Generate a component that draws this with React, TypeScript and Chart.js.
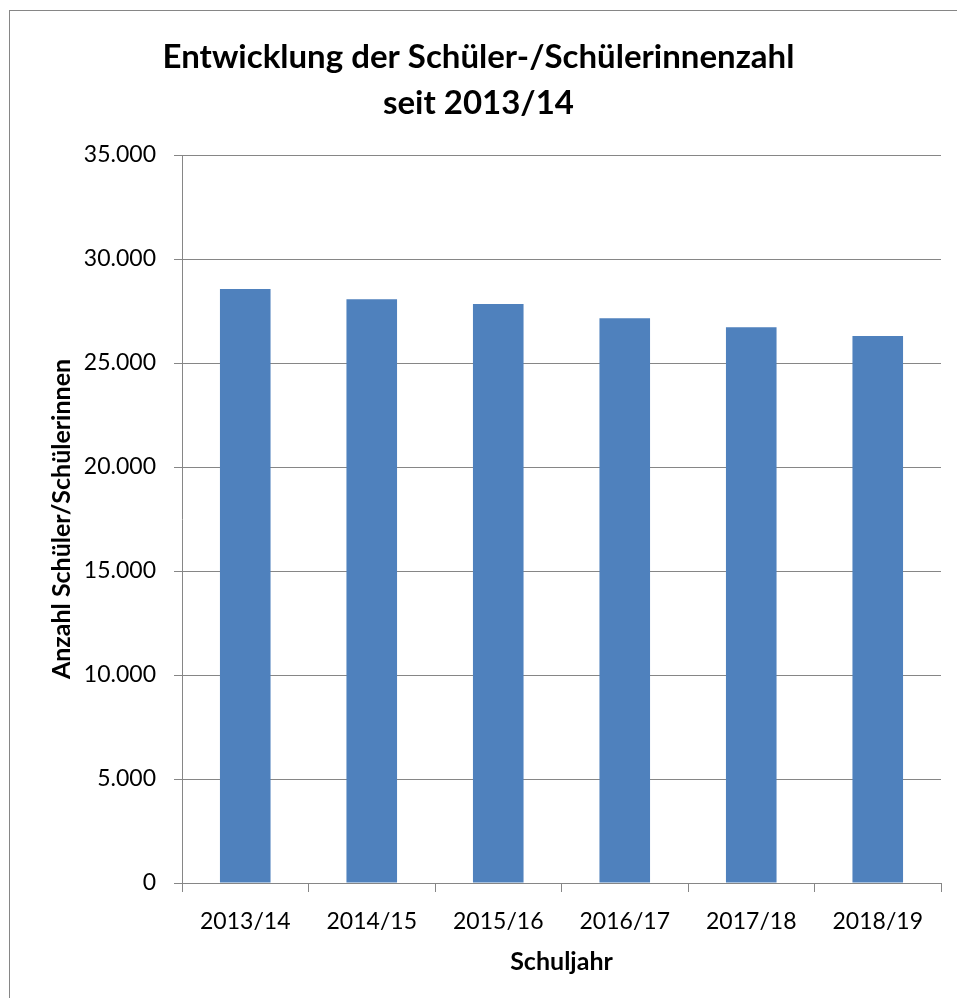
import React, { useEffect, useRef } from "react";
import { Chart, registerables } from "chart.js";

Chart.register(...registerables);

const categories: string[] = ["2013/14", "2014/15", "2015/16", "2016/17", "2017/18", "2018/19"];
const studentCounts: number[] = [28560, 28070, 27840, 27150, 26720, 26300];
const titleLines: string[] = ["Entwicklung der Schüler-/Schülerinnenzahl", "seit 2013/14"];
const yAxisTitle = "Anzahl Schüler/Schülerinnen";
const xAxisTitle = "Schuljahr";
const yMin = 0;
const yMax = 35000;
const yStep = 5000;

const FONT = "Lato, 'Open Sans', sans-serif";
const GRID = "#868686";

const frame = {
  id: "frame",
  beforeDraw(chart: any) {
    const { ctx, width, height } = chart;
    ctx.save();
    ctx.fillStyle = "#ffffff";
    ctx.fillRect(0, 0, width, height);
    ctx.strokeStyle = GRID;
    ctx.lineWidth = 1;
    ctx.strokeRect(9.5, 10.5, width + 20, height + 20);
    ctx.restore();
  },
};

export default function App() {
  const ref = useRef<HTMLCanvasElement | null>(null);

  useEffect(() => {
    if (!ref.current) return;
    const chart = new Chart(ref.current, {
      type: "bar",
      data: {
        labels: categories,
        datasets: [
          {
            label: "Schüler/Schülerinnen",
            data: studentCounts,
            backgroundColor: "#4F81BD",
            borderWidth: 0,
            barPercentage: 0.4,
            categoryPercentage: 1.0,
          },
        ],
      },
      options: {
        responsive: false,
        animation: false,
        devicePixelRatio: 1,
        layout: { padding: { left: 16, right: 16, top: 0, bottom: 0 } },
        plugins: {
          legend: { display: false },
          tooltip: { enabled: false },
          title: {
            display: true,
            text: titleLines,
            color: "#000000",
            font: { family: FONT, size: 33, weight: "bold", lineHeight: 1.394 },
            padding: { top: 34, bottom: 29 },
          },
        },
        scales: {
          x: {
            afterFit(scale: any) {
              scale.height = 115;
            },
            grid: {
              display: true,
              drawOnChartArea: false,
              drawTicks: true,
              tickLength: 9,
              color: GRID,
              offset: true,
            },
            border: { display: true, color: GRID, width: 1 },
            ticks: {
              color: "#000000",
              font: { family: FONT, size: 23 },
              padding: 16,
              maxRotation: 0,
            },
            title: {
              display: true,
              text: xAxisTitle,
              color: "#000000",
              font: { family: FONT, size: 25, weight: "bold", lineHeight: 1.2 },
              padding: { top: 0, bottom: 21 },
            },
          },
          y: {
            min: yMin,
            max: yMax,
            afterFit(scale: any) {
              scale.width = 166;
            },
            grid: {
              color: GRID,
              lineWidth: 1,
              drawTicks: true,
              tickLength: 8,
            },
            border: { display: true, color: GRID, width: 1 },
            ticks: {
              stepSize: yStep,
              color: "#000000",
              font: { family: FONT, size: 23 },
              padding: 18,
              callback: (v: any) => Number(v).toLocaleString("de-DE"),
            },
            title: {
              display: true,
              text: yAxisTitle,
              color: "#000000",
              font: { family: FONT, size: 25, weight: "bold", lineHeight: 1.2 },
              padding: { top: 31, bottom: 0 },
            },
          },
        },
      },
      plugins: [frame],
    });
    return () => chart.destroy();
  }, []);

  return (
    <div style={{ position: "fixed", left: 0, top: 0, width: 957, height: 998, background: "#fff" }}>
      <canvas ref={ref} width={957} height={998} style={{ display: "block", width: 957, height: 998 }} />
    </div>
  );
}
